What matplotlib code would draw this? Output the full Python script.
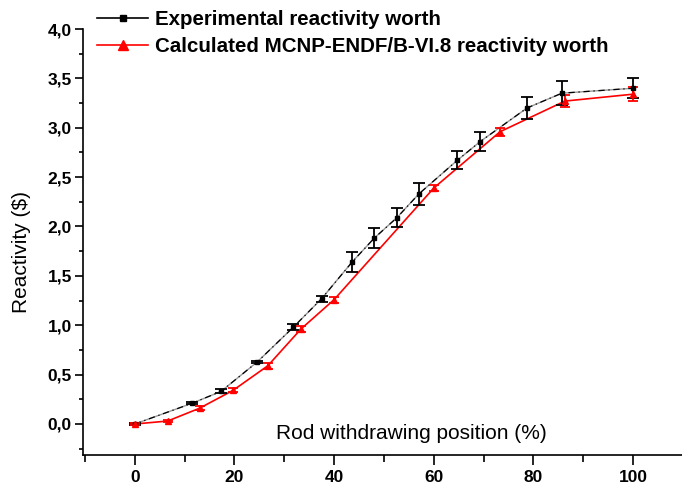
import numpy as np
import matplotlib
matplotlib.use("Agg")
import matplotlib.pyplot as plt
from matplotlib.lines import Line2D
from matplotlib.ticker import MultipleLocator, FuncFormatter

plt.rcParams['font.family'] = ['Liberation Sans', 'DejaVu Sans']

# Experimental reactivity worth (black)
exp_pos = [0, 11.5, 17.3, 24.6, 31.8, 37.5, 43.6, 48.0, 52.6, 57.0, 64.7, 69.3, 78.7, 85.7, 100]
exp_rho = [0.0, 0.21, 0.33, 0.63, 0.98, 1.27, 1.64, 1.88, 2.09, 2.33, 2.67, 2.86, 3.20, 3.35, 3.40]
exp_err = [0.01, 0.01, 0.02, 0.01, 0.03, 0.03, 0.10, 0.10, 0.10, 0.11, 0.09, 0.10, 0.11, 0.12, 0.10]

# Calculated MCNP-ENDF/B-VI.8 reactivity worth (red)
calc_pos = [0, 6.6, 13.0, 19.7, 26.7, 33.3, 40.0, 60.0, 73.3, 86.3, 100]
calc_rho = [0.0, 0.03, 0.16, 0.34, 0.59, 0.96, 1.26, 2.39, 2.96, 3.27, 3.34]
calc_err = [0.01, 0.01, 0.02, 0.02, 0.03, 0.03, 0.03, 0.03, 0.04, 0.06, 0.07]

labels = ["Experimental reactivity worth",
          "Calculated MCNP-ENDF/B-VI.8 reactivity worth"]

fig = plt.figure(figsize=(6.82, 4.86), dpi=100)
ax = fig.add_axes([83 / 682, 31 / 486, 1 - 83 / 682, 426 / 486])

# experimental curve: grey line with black dash-dot over it
ax.plot(exp_pos, exp_rho, color='0.6', lw=1.0, zorder=2)
ax.plot(exp_pos, exp_rho, color='black', lw=0.9, ls=(0, (5, 3, 1, 3)), zorder=3)
ax.errorbar(exp_pos, exp_rho, yerr=exp_err, fmt='s', color='black', ms=3.5,
            elinewidth=1.3, capsize=4.3, capthick=1.3, zorder=4)

# calculated curve
ax.plot(calc_pos, calc_rho, color='red', lw=1.2, zorder=2)
ax.errorbar(calc_pos, calc_rho, yerr=calc_err, fmt='^', color='red', ms=5,
            elinewidth=1.3, capsize=3.6, capthick=1.3, zorder=4)

ax.set_xlim(-10.4, 109.8)
ax.set_ylim(-0.314, 4.0)
ax.spines['top'].set_visible(False)
ax.spines['right'].set_visible(False)
for s in ['left', 'bottom']:
    ax.spines[s].set_linewidth(1.2)

ax.xaxis.set_major_locator(MultipleLocator(20))
ax.xaxis.set_minor_locator(MultipleLocator(10))
ax.yaxis.set_major_locator(MultipleLocator(0.5))
ax.yaxis.set_minor_locator(MultipleLocator(0.25))
ax.yaxis.set_major_formatter(FuncFormatter(lambda v, p: f"{v:.1f}".replace('.', ',')))
ax.tick_params(axis='x', which='major', direction='out', length=7.5, width=1.2, pad=3, labelsize=12.5)
ax.tick_params(axis='x', which='minor', direction='out', length=5, width=1.2)
ax.tick_params(axis='y', which='major', direction='out', length=6, width=1.2, pad=2, labelsize=12.5)
ax.tick_params(axis='y', which='minor', direction='out', length=3, width=1.2)
for t in ax.get_xticklabels() + ax.get_yticklabels():
    t.set_fontweight('bold')

ax.set_xlabel("Rod withdrawing position (%)", fontsize=15)
ax.xaxis.set_label_coords(0.548, 0.073)
ax.set_ylabel("Reactivity (\\$)", fontsize=15)
ax.yaxis.set_label_coords(-0.087, 0.4765)

handles = [Line2D([], [], color='black', marker='s', ms=5, lw=1.2),
           Line2D([], [], color='red', marker='^', ms=7, lw=1.2)]
fig.legend(handles, labels, loc='upper left', bbox_to_anchor=(97 / 682, 0.98),
           frameon=False, borderpad=0, borderaxespad=0, handlelength=2.5,
           handletextpad=0.3, labelspacing=0.4,
           prop={'size': 14.8, 'weight': 'bold'})

fig.savefig("out.png", dpi=100)
